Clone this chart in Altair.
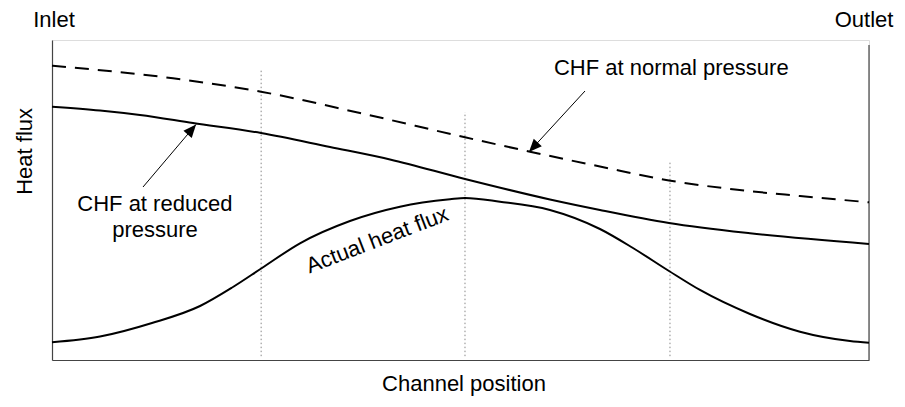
import altair as alt
import pandas as pd

# CHF at normal pressure (dashed)
normal_x = [0, 14.81, 25.58, 37.7, 50.55, 58.51, 67.07, 75.52, 83.6, 91.55, 100]
normal_y = [91.97, 88.03, 83.84, 77.19, 69.59, 65.09, 60.47, 56.09, 53.28, 51.25, 49.28]

# CHF at reduced pressure (solid)
reduced_x = [0, 5.88, 10.77, 17.26, 25.58, 34.03, 41.37, 50.55, 60.95, 67.07, 75.52, 85.43, 100]
reduced_y = [79.16, 77.97, 76.56, 74.06, 70.94, 66.56, 62.66, 56.56, 50.16, 46.88, 42.81, 39.59, 36.25]

# Actual heat flux (bell shape)
actual_x = [0, 5.88, 12.24, 18.12, 22.15, 25.7, 30.35, 36.47, 42.59, 48.71, 50.55,
            54.83, 60.95, 67.07, 71.11, 75.52, 79.31, 85.43, 91.55, 97.67, 100]
actual_y = [5.53, 7.34, 11.56, 16.88, 22.81, 28.75, 36.47, 43.44, 47.91, 50.22, 50.63,
            49.47, 46.88, 40.94, 35.0, 27.81, 21.88, 14.38, 8.84, 5.94, 5.41]

# dotted dividers
divider_x = [25.6, 50.55, 75.64]
divider_top = [90.6, 77.5, 61.9]
divider_bottom = [1.2, 1.2, 1.2]

# arrows (start -> tip)
arrow_x0 = [11.14, 65.24]
arrow_y0 = [54.06, 84.06]
arrow_x1 = [17.63, 58.38]
arrow_y1 = [73.6, 65.0]
arrow_angle = [40.5, 222.6]

# text labels
label_text = ["Inlet", "Outlet", "Heat flux", "Channel position",
              "CHF at normal pressure", "CHF at reduced", "pressure", "Actual heat flux"]
label_x = [0.24, 99.4, -3.3, 50.43, 75.8, 12.6, 12.6, 39.8]
label_y = [106.25, 106.25, 65.2, -7.6, 91.25, 48.75, 40.6, 37.5]
label_angle = [0, 0, 270, 0, 0, 0, 0, 339]

# right frame line
frame_x = [100]
frame_top = [98.4]
frame_bottom = [0]

xs = alt.Scale(domain=[0, 100], nice=False, zero=False)
ys = alt.Scale(domain=[0, 100], nice=False, zero=False)
ax = alt.Axis(title=None, labels=False, ticks=False, grid=False, domain=True,
              domainColor="#444444", domainWidth=1.2)


def X(f="x"):
    return alt.X(f"{f}:Q", scale=xs, axis=ax)


def Y(f="y"):
    return alt.Y(f"{f}:Q", scale=ys, axis=ax)


normal_df = pd.DataFrame({"x": normal_x, "y": normal_y})
reduced_df = pd.DataFrame({"x": reduced_x, "y": reduced_y})
actual_df = pd.DataFrame({"x": actual_x, "y": actual_y})
div_df = pd.DataFrame({"x": divider_x, "y": divider_bottom, "y2": divider_top})
frame_df = pd.DataFrame({"x": frame_x, "y": frame_bottom, "y2": frame_top})
arrow_df = pd.DataFrame({"x": arrow_x0, "y": arrow_y0, "x2": arrow_x1, "y2": arrow_y1,
                         "tx": arrow_x1, "ty": arrow_y1, "ang": arrow_angle})
label_df = pd.DataFrame({"x": label_x, "y": label_y, "t": label_text, "ang": label_angle})

dividers = alt.Chart(div_df).mark_rule(color="#888888", strokeWidth=1, strokeDash=[1.5, 2.5]).encode(
    x=X(), y=Y(), y2="y2:Q")

frame = alt.Chart(frame_df).mark_rule(color="#444444", strokeWidth=1.2).encode(
    x=X(), y=Y(), y2="y2:Q")

normal = alt.Chart(normal_df).mark_line(color="black", strokeWidth=2, strokeDash=[14, 9],
                                        interpolate="monotone").encode(x=X(), y=Y())
reduced = alt.Chart(reduced_df).mark_line(color="black", strokeWidth=2,
                                          interpolate="monotone").encode(x=X(), y=Y())
actual = alt.Chart(actual_df).mark_line(color="black", strokeWidth=2,
                                        interpolate="monotone").encode(x=X(), y=Y())

arrow_lines = alt.Chart(arrow_df).mark_rule(color="black", strokeWidth=1).encode(
    x=X(), y=Y(), x2="x2:Q", y2="y2:Q")
arrow_heads = alt.Chart(arrow_df).mark_point(
    shape="M0,0 L-0.42,1 L0.42,1 Z", filled=True, color="black", opacity=1, size=676,
    strokeWidth=0).encode(x=X("tx"), y=Y("ty"), angle=alt.Angle("ang:Q", scale=None))

labels = alt.Chart(label_df).mark_text(font="Liberation Sans", fontSize=22, color="black",
                                       align="center", baseline="middle").encode(
    x=X(), y=Y(), text="t:N", angle=alt.Angle("ang:Q", scale=None))

chart = alt.layer(dividers, frame, normal, reduced, actual, arrow_lines, arrow_heads, labels).properties(
    width=817, height=320,
    autosize=alt.AutoSizeParams(type="none"),
    padding={"left": 44, "top": 32, "right": 28, "bottom": 39},
).configure_view(stroke=None).configure(background="white")

chart.save("out.html", embed_options={"renderer": "svg", "actions": False})
